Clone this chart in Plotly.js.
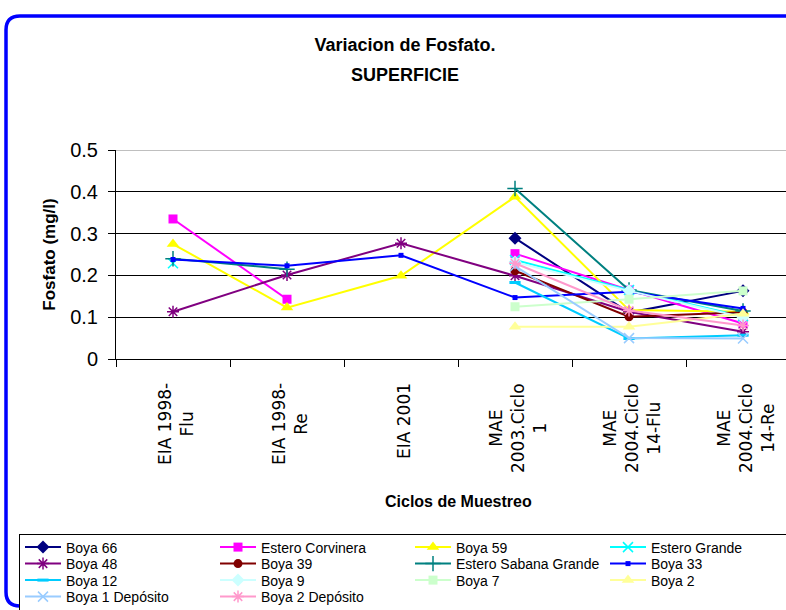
<!DOCTYPE html>
<html>
<head>
<meta charset="utf-8">
<script src="https://cdn.plot.ly/plotly-3.0.1.min.js"></script>
<style>html,body{margin:0;padding:0;background:#fff;}#chart{width:786px;height:610px;}</style>
</head>
<body>
<div id="chart"></div>
<script>
// ---- data ----
const categories = ['EIA 1998-Flu', 'EIA 1998-Re', 'EIA 2001', 'MAE 2003.Ciclo 1', 'MAE 2004.Ciclo 14-Flu', 'MAE 2004.Ciclo 14-Re'];
const tickLabels = ['EIA 1998-<br>Flu', 'EIA 1998-<br>Re', 'EIA 2001', 'MAE<br>2003.Ciclo<br>1', 'MAE<br>2004.Ciclo<br>14-Flu', 'MAE<br>2004.Ciclo<br>14-Re'];
const yTicks = [0, 0.1, 0.2, 0.3, 0.4, 0.5];

const boya66          = [null, null, null, 0.289, 0.111, 0.163];
const esteroCorvinera = [0.335, 0.143, null, 0.252, 0.165, 0.085];
const boya59          = [0.275, 0.123, 0.199, 0.388, 0.117, 0.113];
const esteroGrande    = [0.229, null, null, 0.237, 0.165, 0.102];
const boya48          = [0.113, 0.201, 0.277, 0.199, 0.113, 0.065];
const boya39          = [null, null, null, 0.211, 0.101, 0.112];
const esteroSabana    = [0.240, 0.215, null, 0.408, 0.165, 0.115];
const boya33          = [0.238, 0.223, 0.248, 0.147, 0.161, 0.121];
const boya12          = [null, null, null, 0.183, 0.049, 0.057];
const boya9           = [null, null, null, 0.232, 0.163, 0.100];
const boya7           = [null, null, null, 0.125, 0.143, 0.163];
const boya2           = [null, null, null, 0.077, 0.077, 0.108];
const boya1Deposito   = [null, null, null, 0.222, 0.050, 0.049];
const boya2Deposito   = [null, null, null, 0.229, 0.116, 0.080];

const seriesNames = ['Boya 66', 'Estero Corvinera', 'Boya 59', 'Estero Grande', 'Boya 48', 'Boya 39',
  'Estero Sabana Grande', 'Boya 33', 'Boya 12', 'Boya 9', 'Boya 7', 'Boya 2', 'Boya 1 Depósito', 'Boya 2 Depósito'];
const seriesValues = [boya66, esteroCorvinera, boya59, esteroGrande, boya48, boya39,
  esteroSabana, boya33, boya12, boya9, boya7, boya2, boya1Deposito, boya2Deposito];

// ---- styles ----
const styles = [
  {color: '#000080', symbol: 'diamond', size: 10},
  {color: '#FF00FF', symbol: 'square', size: 9},
  {color: '#FFFF00', symbol: 'triangle-up', size: 11},
  {color: '#00FFFF', symbol: 'x-thin-open', size: 10, lw: 1.5},
  {color: '#800080', symbol: 'asterisk-open', size: 10, lw: 1.5},
  {color: '#800000', symbol: 'circle', size: 9},
  {color: '#008080', symbol: 'cross-thin-open', size: 11, lw: 1.5},
  {color: '#0000FF', symbol: 'square', size: 5},
  {color: '#00CCFF', symbol: 'line-ew-open', size: 8, lw: 3},
  {color: '#CCFFFF', symbol: 'diamond', size: 10},
  {color: '#CCFFCC', symbol: 'square', size: 9},
  {color: '#FFFF99', symbol: 'triangle-up', size: 11},
  {color: '#99CCFF', symbol: 'x-thin-open', size: 10, lw: 1.5},
  {color: '#FF99CC', symbol: 'asterisk-open', size: 10, lw: 1.5}
];

const traces = seriesNames.map((name, i) => {
  const s = styles[i];
  const marker = {color: s.color, symbol: s.symbol, size: s.size};
  if (s.lw) marker.line = {color: s.color, width: s.lw};
  return {
    type: 'scatter', mode: 'lines+markers', name: name,
    x: categories, y: seriesValues[i],
    connectgaps: false,
    line: {color: s.color, width: 2},
    marker: marker
  };
});

// ---- geometry helpers (pixel -> paper) ----
const W = 786, H = 610, ML = 116, MR = 0, MT = 150, MB = 251;
const PW = W - ML - MR, PH = H - MT - MB;
const px = v => (v - ML) / PW;
const py = v => (H - MB - v) / PH;

const narrow = 'Liberation Sans Narrow, Arial Narrow, Liberation Sans, Arial, sans-serif';

const tickAnnots = categories.map((c, i) => ({
  x: c, xref: 'x', y: py(381), yref: 'paper',
  text: tickLabels[i], showarrow: false, textangle: -90,
  xanchor: 'center', yanchor: 'top', align: 'center', xshift: 3,
  font: {family: 'DejaVu Sans, sans-serif', size: 17, color: '#000'}
}));

const frameR = 14, fl = 6, ft = 16, fb = 606, fr = 820;
const framePath =
  `M${px(fl)},${py(fb - frameR)} L${px(fl)},${py(ft + frameR)} Q${px(fl)},${py(ft)} ${px(fl + frameR)},${py(ft)} L${px(fr)},${py(ft)} ` +
  `M${px(fl)},${py(fb - frameR)} Q${px(fl)},${py(fb)} ${px(fl + frameR)},${py(fb)} L${px(fr)},${py(fb)}`;

const layout = {
  width: W, height: H,
  margin: {l: ML, r: MR, t: MT, b: MB, pad: 0, autoexpand: false},
  paper_bgcolor: '#fff', plot_bgcolor: '#fff',
  font: {family: narrow, color: '#000'},
  title: {
    text: 'Variacion de Fosfato.',
    font: {family: narrow, size: 18, weight: 700, color: '#000'},
    x: 405 / W, xref: 'container', xanchor: 'center',
    y: 1 - 45 / H, yref: 'container', yanchor: 'middle'
  },
  showlegend: true,
  legend: {
    orientation: 'h',
    xref: 'paper', yref: 'paper',
    x: px(19), xanchor: 'left', y: py(534), yanchor: 'top',
    bordercolor: '#000', borderwidth: 1, bgcolor: '#fff',
    itemwidth: 36,
    entrywidth: 144, entrywidthmode: 'pixels',
    font: {family: narrow, size: 14, color: '#000'},
    traceorder: 'normal'
  },
  xaxis: {
    type: 'category', categoryorder: 'array', categoryarray: categories,
    range: [-0.5, 5.377], fixedrange: true,
    showgrid: false, zeroline: false,
    showline: true, linecolor: '#000', linewidth: 1,
    ticks: 'outside', tickson: 'boundaries', ticklen: 7, tickcolor: '#000',
    showticklabels: false
  },
  yaxis: {
    range: [0, 0.5], tickvals: yTicks, ticktext: yTicks.map(String),
    showgrid: true, gridcolor: '#000', gridwidth: 1,
    zeroline: false, showline: true, linecolor: '#000', linewidth: 1,
    ticks: 'outside', ticklen: 7, tickcolor: '#000', ticklabelstandoff: 6,
    tickfont: {family: narrow, size: 20, color: '#000'},
    title: {text: 'Fosfato (mg/l)', font: {family: 'Liberation Sans, Arial, sans-serif', size: 17, weight: 700, color: '#000'}, standoff: 10},
    fixedrange: true
  },
  annotations: tickAnnots.concat([
    {text: 'SUPERFICIE', xref: 'paper', yref: 'paper', x: px(405), y: py(75),
     xanchor: 'center', yanchor: 'middle', showarrow: false,
     font: {family: narrow, size: 18, weight: 700, color: '#000'}},
    {text: 'Ciclos de Muestreo', xref: 'paper', yref: 'paper', x: px(458), y: py(501),
     xanchor: 'center', yanchor: 'middle', showarrow: false,
     font: {family: narrow, size: 16, weight: 700, color: '#000'}}
  ]),
  shapes: [
    {type: 'line', xref: 'paper', yref: 'y', x0: 0, x1: 1, y0: 0.5, y1: 0.5,
     line: {color: '#808080', width: 1}, layer: 'above'},
    {type: 'path', xref: 'paper', yref: 'paper', path: framePath,
     line: {color: '#0000FF', width: 3.5}, layer: 'above'}
  ]
};

Plotly.newPlot('chart', traces, layout, {displayModeBar: false, staticPlot: true}).then(gd => {
  // tighten legend row spacing to match the reference (rows ~16.5px apart)
  const items = Array.from(gd.querySelectorAll('.legend .traces'));
  const parsed = items.map(el => {
    const m = /translate\(\s*([-\d.e]+)[ ,]+([-\d.e]+)\s*\)/.exec(el.getAttribute('transform') || '');
    return m ? {el, x: +m[1], y: +m[2]} : null;
  }).filter(Boolean);
  const rows = Array.from(new Set(parsed.map(p => p.y))).sort((a, b) => a - b);
  parsed.forEach(p => {
    const r = rows.indexOf(p.y);
    p.el.setAttribute('transform', `translate(${p.x},${rows[0] - 3.5 + r * 16.5})`);
  });
});
</script>
</body>
</html>
